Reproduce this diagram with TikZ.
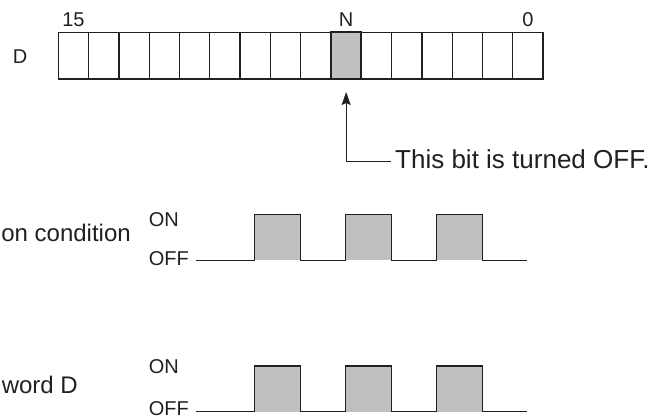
\documentclass[tikz,border=0pt]{standalone}
\usepackage{fontspec}
\setmainfont{Liberation Sans}
\usetikzlibrary{arrows.meta}
\definecolor{ink}{HTML}{231F20}
\definecolor{shade}{HTML}{C0C0C0}
\tikzset{
  bitcell/.style={draw=ink, line width=1.3pt, minimum width=30.3pt, minimum height=46.7pt, inner sep=0pt, outer sep=0pt},
  bitset/.style={bitcell, fill=shade, line width=1.7pt},
  smalltxt/.style={font=\fontsize{20}{24}\selectfont, text=ink, inner sep=0pt},
  bigtxt/.style={font=\fontsize{24}{28}\selectfont, text=ink, inner sep=0pt},
  notetxt/.style={font=\fontsize{26}{30}\selectfont, text=ink, inner sep=0pt},
  wave/.style={draw=ink, line width=1.1pt},
  pulse/.style={fill=shade},
  pointer/.style={draw=ink, line width=1.1pt, -{Stealth[length=13pt,width=9pt,inset=2pt]}}
}
\begin{document}
\begin{tikzpicture}[x=1pt,y=-1pt]
\useasboundingbox (0,0) rectangle (663,418);
% bit register
\foreach \i in {0,...,15}{
  \pgfmathtruncatemacro{\b}{15-\i}
  \node[bitcell] (b\b) at ({58.3+30.3*(\i+0.5)},55.65) {};
}
\node[bitset] (bN) at (b6) {};
\node[smalltxt, anchor=base] (l15) at (b15 |- 0,26.7) {15};
\node[smalltxt, anchor=base] (lN) at (b6 |- 0,26.7) {N};
\node[smalltxt, anchor=base] (l0) at (b0 |- 0,26.7) {0};
\node[smalltxt, anchor=base] (lD) at (20,63.3) {D};
% pointer
\node[notetxt, anchor=base west] (note) at (395,168) {This bit is turned OFF.};
\coordinate (noteend) at (391,161.7);
\draw[pointer, shorten >=13pt] (noteend) -| (bN.south);
% waveforms
\foreach \k in {0,1,2}{
  \fill[pulse] ({254.7+90.9*\k},214.7) rectangle ({300.4+90.9*\k},260.3);
  \fill[pulse] ({254.7+90.9*\k},366) rectangle ({300.4+90.9*\k},411.7);
}
\draw[wave] (195.6,260.3) -- (254.7,260.3) -- (254.7,214.7) -- (300.4,214.7) -- (300.4,260.3)
  -- (345.6,260.3) -- (345.6,214.7) -- (391.3,214.7) -- (391.3,260.3)
  -- (436.5,260.3) -- (436.5,214.7) -- (482.2,214.7) -- (482.2,260.3) -- (526.8,260.3);
\draw[wave] (195.6,411.7) -- (254.7,411.7) -- (254.7,366) -- (300.4,366) -- (300.4,411.7)
  -- (345.6,411.7) -- (345.6,366) -- (391.3,366) -- (391.3,411.7)
  -- (436.5,411.7) -- (436.5,366) -- (482.2,366) -- (482.2,411.7) -- (526.8,411.7);
\node[smalltxt, anchor=base west] (on1) at (148.7,226.7) {ON};
\node[smalltxt, anchor=base west] (off1) at (148.7,265) {OFF};
\node[smalltxt, anchor=base west] (on2) at (148.7,373) {ON};
\node[smalltxt, anchor=base west] (off2) at (148.7,415) {OFF};
\node[bigtxt, anchor=base east] (cond) at (131,241.7) {on condition};
\node[bigtxt, anchor=base east] (word) at (78,393.3) {word D};
\end{tikzpicture}
\end{document}
